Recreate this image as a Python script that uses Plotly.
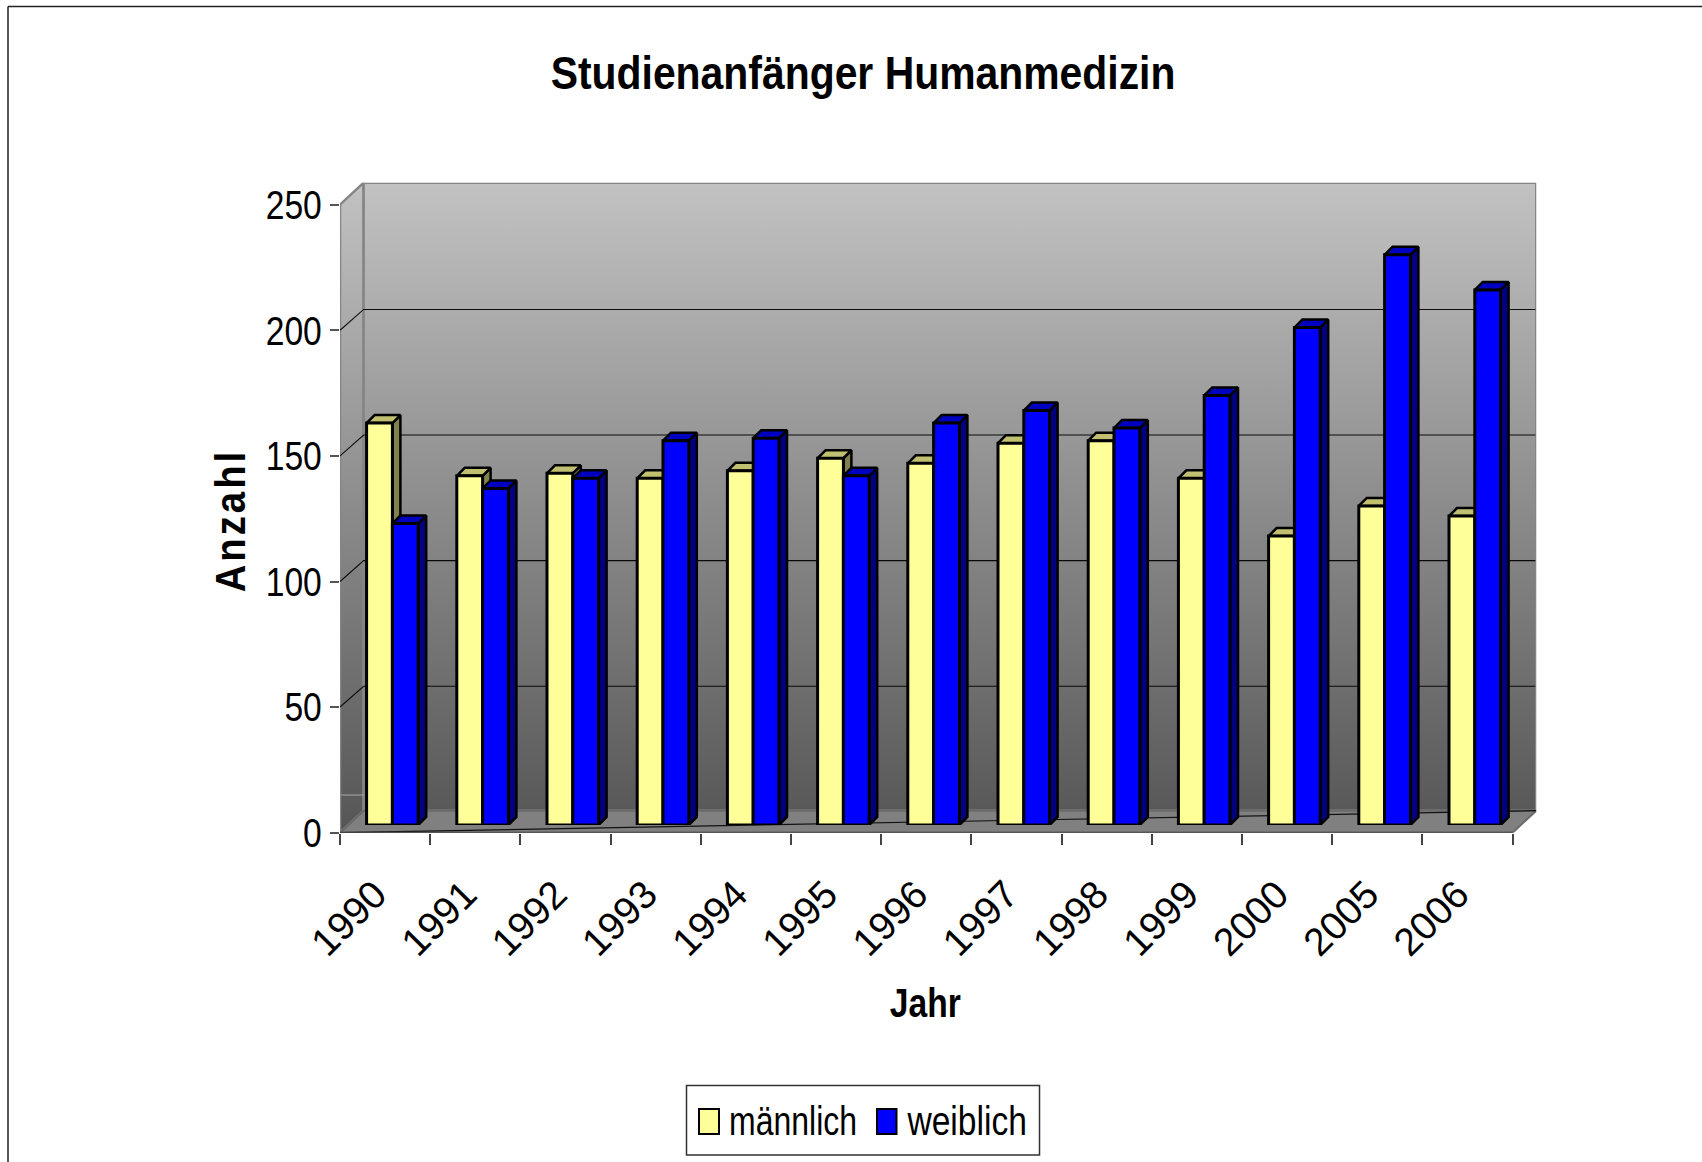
import plotly.graph_objects as go

years = ["1990", "1991", "1992", "1993", "1994", "1995", "1996", "1997", "1998", "1999", "2000", "2005", "2006"]
maennlich = [160, 139, 140, 138, 141, 146, 144, 152, 153, 138, 115, 127, 123]
weiblich = [120, 134, 138, 153, 154, 139, 160, 165, 158, 171, 198, 227, 213]
y_ticks = [0, 50, 100, 150, 200, 250]

W, H = 1702, 1162
REG = "Liberation Sans, Arial, sans-serif"
n = len(years)

def fx(p):
    return p / W
def fy(p):
    return 1 - p / H

# plot geometry (pixels)
CAT = 90.2
UNIT = 2.512
X0, Y0 = 340.0, 832.7
WALL_DX, WALL_DY = 0.262, 8.76      # depth of the box, in data units
GRID_DY = 8.3                       # gridlines sit slightly lower on the back wall
BAR_SHIFT_X, BAR_SHIFT_Y = 7.3, 7.7 # bar plane vs. front plane, px
DEPTH_X, DEPTH_Y = 8 / CAT, 8 / UNIT
BAR_W = 25.8 / CAT

fig = go.Figure()

x_end = n + WALL_DX
y_end = 250 + WALL_DY

GRAD = [[0, "#555555"], [1, "#c2c2c2"]]

def wall(xs, ys, name):
    fig.add_trace(go.Scatter(x=xs, y=ys, mode="lines", fill="toself",
                             fillgradient=dict(type="vertical", colorscale=GRAD, start=0, stop=y_end),
                             line=dict(color="#858585", width=2.5), hoverinfo="skip",
                             showlegend=False, cliponaxis=False, name=name))

# left wall, back wall
wall([0, WALL_DX, WALL_DX, 0, 0], [0, WALL_DY, y_end, 250, 0], "left wall")
wall([WALL_DX, x_end, x_end, WALL_DX, WALL_DX], [WALL_DY, WALL_DY, y_end, y_end, WALL_DY], "back wall")

# floor
fig.add_trace(go.Scatter(x=[0, n, x_end, WALL_DX, 0], y=[0, 0, WALL_DY, WALL_DY, 0], mode="lines", fill="toself",
                         fillcolor="#808080", line=dict(color="#6a6a6a", width=2), hoverinfo="skip",
                         showlegend=False, cliponaxis=False))
# floor diagonal
fig.add_trace(go.Scatter(x=[0, x_end], y=[0, WALL_DY], mode="lines", line=dict(color="#111111", width=1.2),
                         hoverinfo="skip", showlegend=False, cliponaxis=False))

# gridlines on the walls
gx, gy = [], []
for v in y_ticks[1:-1]:
    gx += [0, WALL_DX, x_end - 0.01, None]
    gy += [v, v + GRID_DY, v + GRID_DY, None]
fig.add_trace(go.Scatter(x=gx, y=gy, mode="lines", line=dict(color="#0a0a0a", width=1.1),
                         hoverinfo="skip", showlegend=False, cliponaxis=False))
# pale line low on the left wall
fig.add_trace(go.Scatter(x=[0.01, WALL_DX], y=[15, 15], mode="lines", line=dict(color="#a8a8a8", width=1),
                         hoverinfo="skip", showlegend=False, cliponaxis=False))
# front bottom edge
fig.add_trace(go.Scatter(x=[0, n], y=[0, 0], mode="lines", line=dict(color="#4a4a4a", width=2),
                         hoverinfo="skip", showlegend=False, cliponaxis=False))

# box faces of the bars
def depth(values, offset, c_top, c_side, name):
    sx, sy, tx, ty = [], [], [], []
    for i, v in enumerate(values):
        xl = i + 0.5 + offset
        xr = xl + BAR_W
        sx += [xr, xr + DEPTH_X, xr + DEPTH_X, xr, xr, None]
        sy += [v, v + DEPTH_Y, DEPTH_Y, 0, v, None]
        tx += [xl, xl + DEPTH_X, xr + DEPTH_X, xr, xl, None]
        ty += [v, v + DEPTH_Y, v + DEPTH_Y, v, v, None]
    for px_, py_, col in ((sx, sy, c_side), (tx, ty, c_top)):
        fig.add_trace(go.Scatter(x=px_, y=py_, mode="lines", fill="toself", fillcolor=col,
                                 line=dict(color="black", width=2.5), xaxis="x2", yaxis="y2",
                                 hoverinfo="skip", showlegend=False, name=name, cliponaxis=False))

depth(maennlich, -BAR_W, "#c0c070", "#808050", "männlich Tiefe")
depth(weiblich, 0, "#0000c0", "#000080", "weiblich Tiefe")

centers = [i + 0.5 for i in range(n)]
label_pos = [c - 0.11 for c in centers]
fig.add_trace(go.Bar(x=centers, y=maennlich, name="männlich", marker=dict(color="#ffff99", line=dict(color="black", width=3)),
                     xaxis="x3", yaxis="y3", showlegend=False, cliponaxis=False))
fig.add_trace(go.Bar(x=centers, y=weiblich, name="weiblich", marker=dict(color="#0000ff", line=dict(color="black", width=3)),
                     xaxis="x3", yaxis="y3", showlegend=False, cliponaxis=False))

bar_x_dom = [fx(X0 + BAR_SHIFT_X), fx(X0 + BAR_SHIFT_X + n * CAT)]
bar_y_dom = [fy(Y0 - BAR_SHIFT_Y), fy(Y0 - BAR_SHIFT_Y - 250 * UNIT)]
hidden = dict(visible=False, fixedrange=True)

shapes = [
    # outer frame (only top and left fall inside the picture)
    dict(type="line", xref="paper", yref="paper", x0=fx(8), x1=1, y0=fy(6.5), y1=fy(6.5), line=dict(color="#222222", width=1.5)),
    dict(type="line", xref="paper", yref="paper", x0=fx(8), x1=fx(8), y0=fy(6.5), y1=0, line=dict(color="#222222", width=1.5)),
    # legend box
    dict(type="rect", xref="paper", yref="paper", x0=fx(686.5), x1=fx(1039.5), y0=fy(1155), y1=fy(1085.5),
         line=dict(color="#333333", width=1.5), fillcolor="white"),
    dict(type="rect", xref="paper", yref="paper", x0=fx(699), x1=fx(719), y0=fy(1134), y1=fy(1109),
         line=dict(color="black", width=2), fillcolor="#ffff99"),
    dict(type="rect", xref="paper", yref="paper", x0=fx(877), x1=fx(896.5), y0=fy(1134), y1=fy(1109),
         line=dict(color="black", width=2), fillcolor="#0000ff"),
]

def text(s, x, y, size, bold=False, angle=0):
    return dict(text=f"<b>{s}</b>" if bold else s, xref="paper", yref="paper", x=fx(x), y=fy(y),
                xanchor="center", yanchor="middle", showarrow=False, textangle=angle,
                font=dict(family=REG, size=size, color="black"))

annotations = [
    text("Studienanfänger Humanmedizin", 863, 73, 47, bold=True),
    text("Jahr", 925, 1003, 40, bold=True),
    text("Anzahl", 230, 521, 43, bold=True, angle=-90),
    text("männlich", 793, 1121, 40),
    text("weiblich", 966.5, 1121, 40),
]

fig.update_layout(
    width=W, height=H, autosize=False,
    margin=dict(l=0, r=0, t=0, b=0),
    paper_bgcolor="white", plot_bgcolor="rgba(0,0,0,0)",
    showlegend=False, barmode="group", bargap=1 - 2 * BAR_W, bargroupgap=0,
    shapes=shapes, annotations=annotations,
    xaxis=dict(domain=[fx(X0), fx(X0 + x_end * CAT)], range=[0, x_end], tickmode="array", automargin=False,
               tickvals=label_pos, ticktext=years, tickangle=-45, ticks="", showgrid=False, zeroline=False,
               showline=False, ticklabelstandoff=30, tickfont=dict(family=REG, size=39, color="black"),
               minor=dict(tickmode="array", tickvals=list(range(n + 1)), ticks="outside", ticklen=11,
                          tickcolor="#444444", tickwidth=1.5, showgrid=False)),
    yaxis=dict(domain=[fy(Y0), fy(Y0 - y_end * UNIT)], range=[0, y_end], tickmode="array", automargin=False,
               tickvals=y_ticks, ticks="outside", ticklen=9, tickcolor="#555555", tickwidth=1.5,
               showgrid=False, zeroline=False, showline=False,
               tickfont=dict(family=REG, size=41, color="black")),
    xaxis2=dict(domain=bar_x_dom, range=[0, n], anchor="y2", **hidden),
    yaxis2=dict(domain=bar_y_dom, range=[0, 250], anchor="x2", **hidden),
    xaxis3=dict(domain=bar_x_dom, range=[0, n], anchor="y3", **hidden),
    yaxis3=dict(domain=bar_y_dom, range=[0, 250], anchor="x3", **hidden),
)

# The reference text is horizontally condensed; no narrow font is installed, so squeeze the real text glyphs.
SQUEEZE = """
document.body.style.margin='0';document.body.style.overflow='hidden';
(function(){
  var gd=document.getElementById('{plot_id}');
  var f={'Studienanfänger Humanmedizin':0.87,'Jahr':0.84,'männlich':0.80,'weiblich':0.84,'Anzahl':0.887,
         '0':0.82,'50':0.82,'100':0.82,'150':0.82,'200':0.82,'250':0.82};
  gd.querySelectorAll('.ytick text, .annotation-text').forEach(function(t){
    var k=f[t.textContent];
    if(!k) return;
    if(t.textContent==='Anzahl'){ t.style.letterSpacing='3.5px'; }
    t.setAttribute('lengthAdjust','spacingAndGlyphs');
    t.setAttribute('textLength',t.getComputedTextLength()*k);
  });
})();
"""
fig.write_html("out.html", config=dict(displayModeBar=False), post_script=SQUEEZE)
